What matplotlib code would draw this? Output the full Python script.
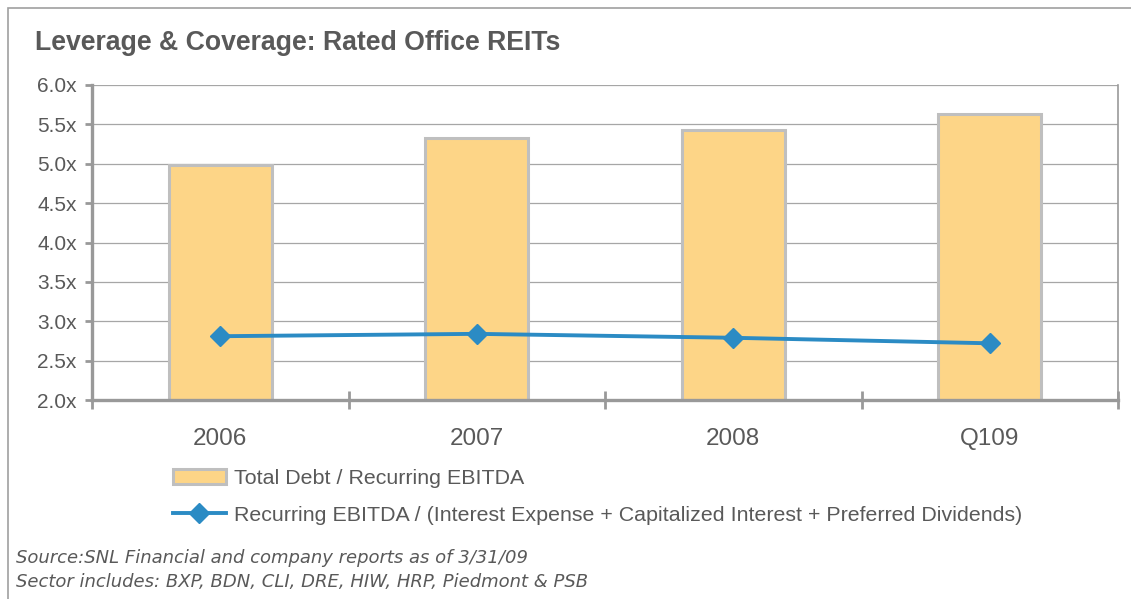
import matplotlib
matplotlib.use("Agg")
import matplotlib.pyplot as plt
from matplotlib.patches import Rectangle
from matplotlib.ticker import FixedLocator, FuncFormatter

# chart data
categories = ["2006", "2007", "2008", "Q109"]
debt_to_ebitda = [4.99, 5.33, 5.43, 5.63]
coverage = [2.81, 2.84, 2.79, 2.72]
y_ticks = [2.0, 2.5, 3.0, 3.5, 4.0, 4.5, 5.0, 5.5, 6.0]

bar_label = "Total Debt / Recurring EBITDA"
line_label = "Recurring EBITDA / (Interest Expense + Capitalized Interest + Preferred Dividends)"
title = "Leverage & Coverage: Rated Office REITs"
notes = ["Source:SNL Financial and company reports as of 3/31/09",
         "Sector includes: BXP, BDN, CLI, DRE, HIW, HRP, Piedmont & PSB"]

plt.rcParams['font.family'] = ['Liberation Sans', 'DejaVu Sans']
text_col = "#595959"
axis_col = "#999999"

W, H = 1131, 599
fig = plt.figure(figsize=(W / 100, H / 100), dpi=100)

# outer frame (only top and left show in the picture)
fig.patches.append(Rectangle((8 / W, -0.1), 1.2, 1 - 8 / H + 0.1, transform=fig.transFigure,
                             fill=False, edgecolor="#a0a0a0", linewidth=1.2))

ax = fig.add_axes([92 / W, 1 - 400 / H, (1118 - 92) / W, (400 - 85) / H])
x = range(len(categories))

ax.set_axisbelow(True)
ax.yaxis.grid(True, color="#a6a6a6", linewidth=0.9)
bars = ax.bar(x, debt_to_ebitda, width=0.4, color="#fdd587", edgecolor="#bfbfbf",
              linewidth=2.2, zorder=2)
line, = ax.plot(x, coverage, color="#2b8bc4", linewidth=2.8, marker="D", markersize=10.5,
                zorder=3)

ax.set_xlim(-0.5, len(categories) - 0.5)
ax.set_ylim(2.0, 6.0)
ax.set_yticks(y_ticks)
ax.yaxis.set_major_formatter(FuncFormatter(lambda v, p: f"{v:.1f}x"))
ax.set_xticks(list(x))
ax.set_xticklabels(categories)
ax.xaxis.set_minor_locator(FixedLocator([i - 0.5 for i in range(len(categories) + 1)]))

ax.tick_params(axis="y", direction="out", length=5, width=2, color=axis_col,
               labelsize=15, labelcolor=text_col, pad=6)
ax.tick_params(axis="x", which="major", length=0, labelsize=17.5, labelcolor=text_col, pad=20)
ax.tick_params(axis="x", which="minor", direction="inout", length=13, width=2, color=axis_col)

ax.spines["top"].set_visible(False)
ax.spines["left"].set_color(axis_col)
ax.spines["left"].set_linewidth(2.4)
ax.spines["bottom"].set_color(axis_col)
ax.spines["bottom"].set_linewidth(2.4)
ax.spines["right"].set_color(axis_col)
ax.spines["right"].set_linewidth(1.2)

fig.text(35 / W, 1 - 50 / H, title, fontsize=19.2, fontweight="bold", color=text_col, va="baseline")

fig.legend([bars, line], [bar_label, line_label], loc="upper left",
           bbox_to_anchor=(164 / W, 1 - 460 / H), frameon=False,
           fontsize=15.4, labelcolor=text_col, handlelength=2.5, handletextpad=0.35,
           labelspacing=0.85, borderaxespad=0)

for txt, base in zip(notes, [563, 587]):
    fig.text(16 / W, 1 - base / H, txt, fontsize=13, style="italic", color=text_col,
             va="baseline", family="DejaVu Sans")

fig.savefig("out.png", dpi=100)
